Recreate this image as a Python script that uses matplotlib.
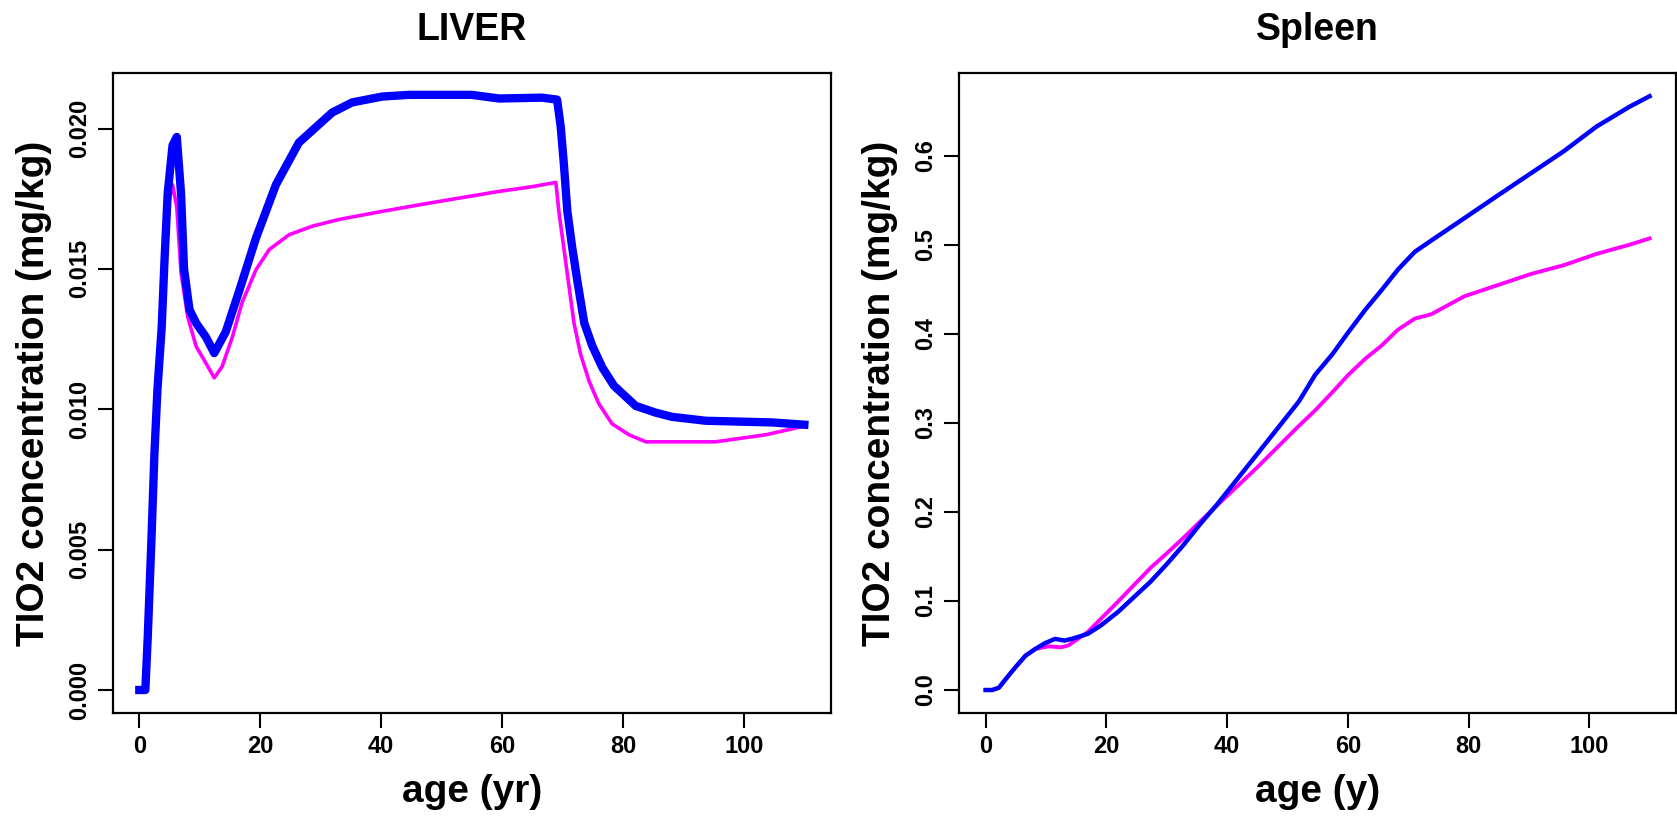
import matplotlib
matplotlib.use("Agg")
import matplotlib.pyplot as plt

plt.rcParams['font.family'] = ['Liberation Sans', 'DejaVu Sans']
plt.rcParams['font.weight'] = 'bold'

# LIVER panel
liver_blue_age = [0, 1, 1.4, 2, 2.5, 3.0, 3.7, 4.2, 4.7, 5.5, 6.2, 6.9, 7.4, 8.3, 9.4, 11.0,
                  12.4, 14.3, 16.5, 19.3, 22.6, 26.4, 31.9, 35.2, 40.2, 44.6, 55, 59.5, 66.6,
                  69.1, 69.7, 70.2, 70.8, 71.6, 72.5, 73.6, 74.9, 76.6, 78.5, 82.1, 85.4, 88.1,
                  93.7, 104.7, 110]
liver_blue = [0, 0, 0.0019, 0.0053, 0.0084, 0.0107, 0.0129, 0.01545, 0.0177, 0.0194, 0.0197,
              0.0177, 0.0150, 0.01355, 0.01307, 0.01258, 0.0120, 0.01276, 0.0142, 0.0161,
              0.0180, 0.0195, 0.02057, 0.02093, 0.02114, 0.0212, 0.0212, 0.02107, 0.0211,
              0.02103, 0.02007, 0.0188, 0.01705, 0.01577, 0.01451, 0.01307, 0.01227, 0.01148,
              0.01084, 0.01012, 0.00988, 0.00973, 0.00959, 0.00953, 0.00945]

liver_pink_age = [0, 1, 1.4, 2, 2.5, 3.0, 3.7, 4.2, 4.7, 5.5, 6.2, 6.9, 8.0, 9.4, 11.0, 12.4,
                  13.7, 15.4, 17.0, 19.3, 21.5, 24.8, 28.6, 33, 40.2, 48.4, 59.5, 65, 68.9,
                  69.4, 70.2, 71.1, 71.9, 73, 74.4, 76, 78.2, 81, 83.8, 95.3, 103.6, 110]
liver_pink = [0, 0, 0.0019, 0.0053, 0.0084, 0.0107, 0.0129, 0.01545, 0.0172, 0.0180, 0.0172,
              0.01487, 0.0133, 0.01224, 0.01165, 0.01112, 0.01152, 0.01258, 0.0138, 0.01497,
              0.01569, 0.01622, 0.01652, 0.01676, 0.01705, 0.01736, 0.01776, 0.01793, 0.01808,
              0.01704, 0.01577, 0.01434, 0.01307, 0.01195, 0.0110, 0.0102, 0.00948, 0.00909,
              0.00884, 0.00884, 0.00909, 0.0094]

# Spleen panel
spleen_blue_age = [0, 1.1, 2.2, 3.3, 4.9, 6.6, 8.2, 9.8, 11.5, 13.1, 14.8, 16.9, 19.1, 21.9,
                   24.6, 27.3, 30.1, 32.8, 35.5, 38.3, 45, 51.9, 54.6, 57.4, 60.1, 62.9, 65.6,
                   68.3, 71.1, 73.8, 79.3, 84.8, 90.3, 95.8, 101.2, 106.7, 110]
spleen_blue = [0, 0, 0.0026, 0.012, 0.0253, 0.0385, 0.046, 0.0525, 0.0574, 0.0555, 0.0585,
               0.063, 0.0725, 0.0875, 0.1045, 0.1215, 0.142, 0.163, 0.186, 0.208, 0.265,
               0.324, 0.354, 0.3766, 0.4018, 0.427, 0.449, 0.472, 0.492, 0.5045, 0.5297,
               0.555, 0.580, 0.605, 0.6326, 0.655, 0.6667]

spleen_pink_age = [0, 1.1, 2.2, 3.3, 4.9, 6.6, 8.2, 10.4, 12.5, 13.7, 16.9, 19.1, 21.9, 24.6,
                   27.3, 30.1, 32.8, 35.5, 38.3, 45, 51.9, 54.6, 57.4, 60.1, 62.9, 65.6, 68.3,
                   71.1, 73.8, 79.3, 84.8, 90.3, 95.8, 101.2, 106.7, 110]
spleen_pink = [0, 0, 0.0026, 0.012, 0.0253, 0.0385, 0.046, 0.049, 0.048, 0.050, 0.065, 0.080,
               0.099, 0.118, 0.137, 0.154, 0.171, 0.189, 0.207, 0.25, 0.2966, 0.314, 0.334,
               0.354, 0.372, 0.3867, 0.4045, 0.417, 0.4218, 0.442, 0.4545, 0.467, 0.477,
               0.4896, 0.50, 0.507]

x_ticks = [0, 20, 40, 60, 80, 100]
liver_yticks = [0.000, 0.005, 0.010, 0.015, 0.020]
spleen_yticks = [0.0, 0.1, 0.2, 0.3, 0.4, 0.5, 0.6]

fig = plt.figure(figsize=(16.77, 8.17), dpi=100)
ax1 = fig.add_axes([0.0672, 0.1273, 0.4283, 0.7834])
ax2 = fig.add_axes([0.5719, 0.1273, 0.4276, 0.7834])


def style_axes(ax, title, xlabel, yticks, fmt):
    ax.set_xlim(-4.4, 114.4)
    ax.set_xticks(x_ticks)
    ax.set_yticks(yticks)
    ax.set_yticklabels([fmt.format(v) for v in yticks], rotation=90, va='center')
    ax.tick_params(direction='out', length=10.8, width=1.5, labelsize=17, pad=5)
    for s in ax.spines.values():
        s.set_linewidth(1.6)
    ax.set_title(title, fontsize=27, fontweight='bold', pad=24)
    ax.set_xlabel(xlabel, fontsize=28, fontweight='bold')
    ax.set_ylabel('TIO2 concentration (mg/kg)', fontsize=28, fontweight='bold')
    ax.xaxis.set_label_coords(0.5, -0.095)
    # label anchor is its right edge once rotated
    ax.yaxis.set_label_coords(-0.085, 0.5)


ax1.plot(liver_pink_age, liver_pink, color='#FF00FF', lw=2.6)
ax1.plot(liver_blue_age, liver_blue, color='#0000FF', lw=6)
ax1.set_ylim(-0.00082, 0.02198)
style_axes(ax1, 'LIVER', 'age (yr)', liver_yticks, '{:.3f}')

ax2.plot(spleen_pink_age, spleen_pink, color='#FF00FF', lw=2.8)
ax2.plot(spleen_blue_age, spleen_blue, color='#0000FF', lw=3.2)
ax2.set_ylim(-0.0258, 0.6928)
style_axes(ax2, 'Spleen', 'age (y)', spleen_yticks, '{:.1f}')

fig.savefig('out.png', dpi=100)
